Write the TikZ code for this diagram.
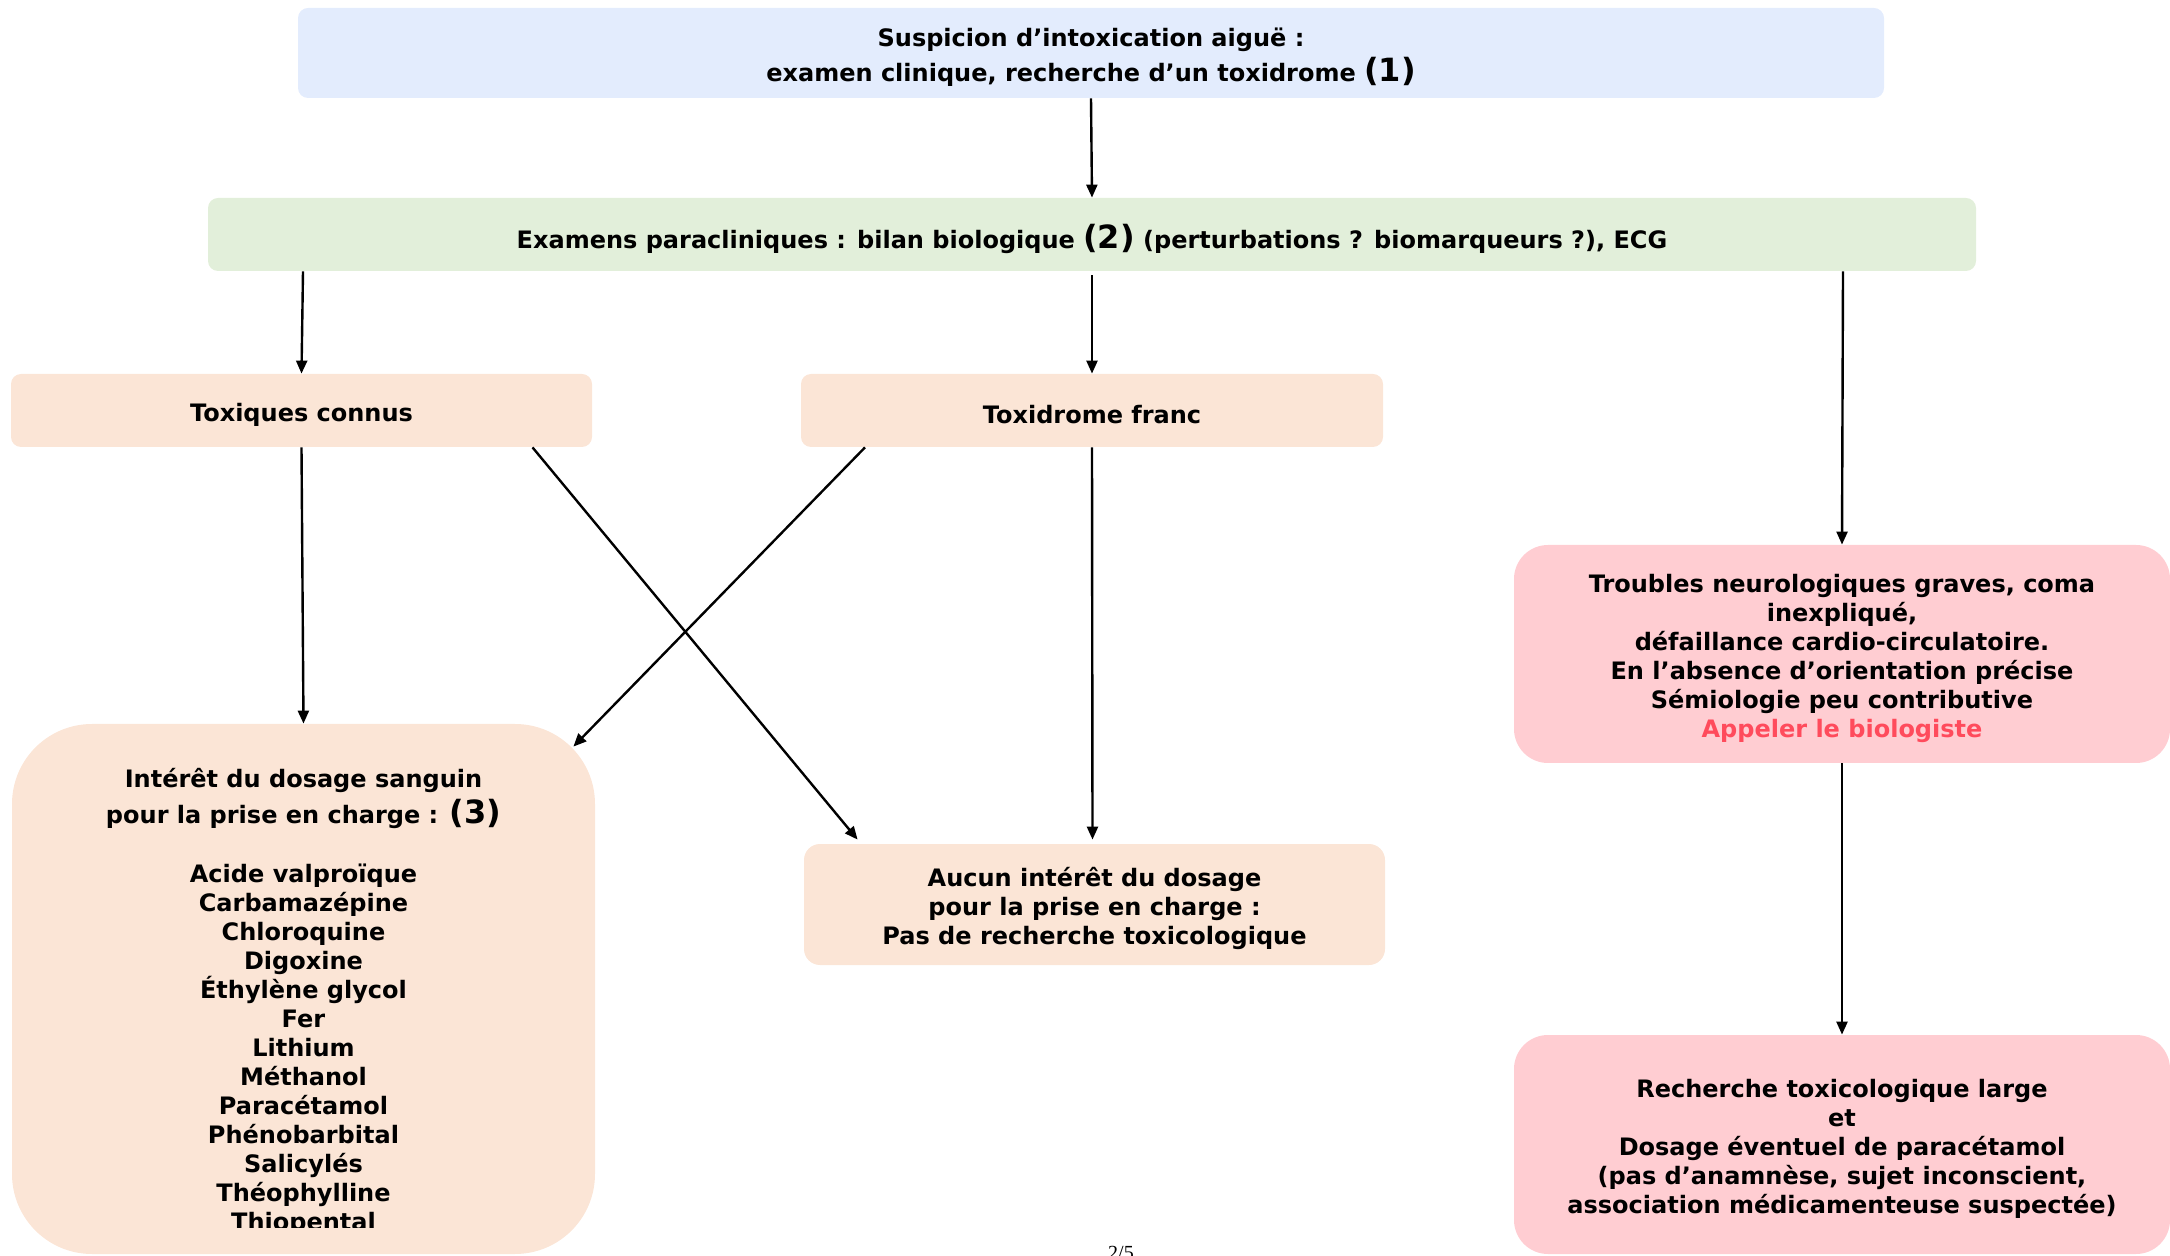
\documentclass[tikz,border=0pt]{standalone}
\usepackage{fontspec}
\setmainfont{DejaVu Sans}
\newfontfamily\pagefont{Liberation Serif}
\usetikzlibrary{arrows.meta,calc}
\definecolor{cblue}{HTML}{E3ECFD}
\definecolor{cgreen}{HTML}{E2EFDA}
\definecolor{cpeach}{HTML}{FBE5D6}
\definecolor{cpink}{HTML}{FFCDD2}
\definecolor{cred}{HTML}{FF4B5C}
\tikzset{
  box/.style={draw=none, rectangle, inner sep=0pt},
  txt/.style={align=center, inner sep=0pt, yshift=-2pt,
    font=\fontsize{12}{14.5}\selectfont\bfseries},
  arr/.style={line width=1.2pt, -{Triangle[length=6.5pt,width=5.5pt]}},
}
\newcommand{\bignum}[1]{{\fontsize{16}{14.5}\selectfont #1}}
\begin{document}
\begin{tikzpicture}[x=0.5pt,y=-0.5pt]
\useasboundingbox (0,0) rectangle (2170,1256);
\node[box, fill=cblue, rounded corners=5pt, minimum width=793pt, minimum height=45pt] (b1) at (1091,53) {};
\node[txt] (b1t) at (b1.center)
  {Suspicion d’intoxication aiguë :\\[2pt] examen clinique, recherche d’un toxidrome \bignum{(1)}};
\node[box, fill=cgreen, rounded corners=5pt, minimum width=884pt, minimum height=36.5pt] (b2) at (1092,234.5) {};
\node[txt] (b2t) at (b2.center)
  {Examens paracliniques : bilan biologique \bignum{(2)} (perturbations ? biomarqueurs ?), ECG};
\node[box, fill=cpeach, rounded corners=5pt, minimum width=290.5pt, minimum height=36.5pt] (tc) at (301.5,410.5) {};
\node[txt] (tct) at (tc.center) {Toxiques connus};
\node[box, fill=cpeach, rounded corners=5pt, minimum width=291pt, minimum height=36.5pt] (tf) at (1092,410.5) {};
\node[txt] (tft) at (tf.center) {Toxidrome franc};
\node[box, fill=cpink, rounded corners=17pt, minimum width=328pt, minimum height=109pt] (tr) at (1842,654) {};
\node[txt] (trt) at (tr.center)
  {Troubles neurologiques graves, coma\\ inexpliqué,\\ défaillance cardio-circulatoire.\\ En l’absence d’orientation précise\\ Sémiologie peu contributive\\ \textcolor{cred}{Appeler le biologiste}};
\node[box, fill=cpeach, rounded corners=40pt, minimum width=291.5pt, minimum height=265pt] (ii) at (303.5,989) {};
\begin{scope}
\clip (0,724) rectangle (600,1227);
\node[txt, anchor=north, yshift=0pt] (iit) at (303.5,764)
  {Intérêt du dosage sanguin\\[2pt] pour la prise en charge : \bignum{(3)}\\[15pt]
   Acide valproïque\\ Carbamazépine\\ Chloroquine\\ Digoxine\\ Éthylène glycol\\ Fer\\ Lithium\\ Méthanol\\ Paracétamol\\ Phénobarbital\\ Salicylés\\ Théophylline\\ Thiopental};
\end{scope}
\node[box, fill=cpeach, rounded corners=8pt, minimum width=290.5pt, minimum height=60.5pt] (au) at (1094.5,904.5) {};
\node[txt] (aut) at (au.center)
  {Aucun intérêt du dosage\\ pour la prise en charge :\\ Pas de recherche toxicologique};
\node[box, fill=cpink, rounded corners=17pt, minimum width=328pt, minimum height=109.5pt] (rc) at (1842,1144.5) {};
\node[txt] (rct) at (rc.center)
  {Recherche toxicologique large\\ et\\ Dosage éventuel de paracétamol\\ (pas d’anamnèse, sujet inconscient,\\ association médicamenteuse suspectée)};
\node[anchor=base, inner sep=0pt, font=\pagefont\fontsize{10}{12}\selectfont] (pg) at (1121,1259) {2/5};

\draw[arr] (b1.south) -- (b2.north);
\draw[arr] ($(b2.south)+(-789,0)$) -- (tc.north);
\draw[arr] ($(b2.south)+(0,4)$) -- (tf.north);
\draw[arr] ($(b2.south)+(751,0)$) -- (tr.north);
\draw[arr] (tc.south) -- (ii.north);
\draw[arr] ($(tc.south)+(231,0)$) -- ($(au.north west)+(54,-4)$);
\draw[arr] ($(tf.south)+(-227,0)$) -- ($(ii.north east)+(-22,23)$);
\draw[arr] (tf.south) -- ($(au.north)+(-2,-4)$);
\draw[arr] (tr.south) -- (rc.north);
\end{tikzpicture}
\end{document}
